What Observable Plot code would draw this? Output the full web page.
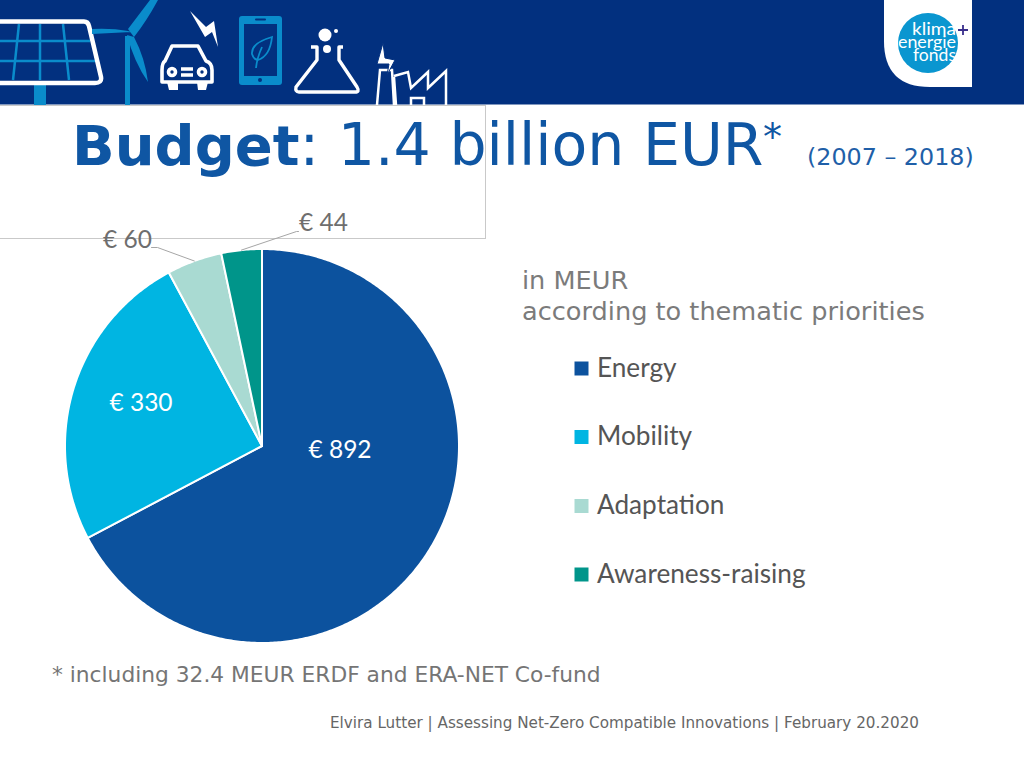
<!DOCTYPE html>
<html><head><meta charset="utf-8">
<script src="https://cdn.jsdelivr.net/npm/d3@7"></script>
<script src="https://cdn.jsdelivr.net/npm/@observablehq/plot@0.6"></script>
<style>
html,body{margin:0;padding:0;background:#fff;overflow:hidden}
#page{position:relative;width:1024px;height:768px;overflow:hidden;background:#fff}
#page>*{position:absolute}
.t{white-space:nowrap;font-family:"DejaVu Sans",sans-serif}
svg{display:block}
</style></head><body>
<div id="page">
<div style="left:-2px;top:105px;width:487px;height:132px;border:1px solid #c9c9c9;border-left:0"></div>
<svg style="left:0;top:0" width="1024" height="106" viewBox="0 0 1024 106">
  <rect width="1024" height="104.500" fill="#02307F"/>
  <!-- solar panel -->
  <rect x="34" y="84" width="12" height="21" fill="#0A8CCB"/>
  <g stroke="#0A8CCB" stroke-width="2.500" fill="none">
    <path d="M19 24L13 80M40 24V80M63 24L69 80M0 41H90M0 61H95"/>
  </g>
  <path d="M-10 21.500H84Q88 21.500 89 26L101 77Q102 83 95 83H-10" fill="none" stroke="#fff" stroke-width="4.500"/>
  <!-- turbine -->
  <path d="M125 36H130V105H125Z" fill="#0A8CCB"/>
  <path d="M128 29L150 0H158Q146 22 134 37Z M131 32L92 34V29Q112 28 128 31Z M127 35L134 37Q145 58 148 82Q134 62 127 35Z" fill="#0A8CCB"/>
  <!-- car -->
  <g fill="none" stroke="#fff" stroke-width="3.600" stroke-linejoin="round">
    <path d="M165 61L172 46H198L206 61Q212 63 212 70V82H162V70Q162 63 165 61Z"/>
    <circle cx="172" cy="72" r="3.500"/><circle cx="202" cy="72" r="3.500"/>
    <path d="M181 69H193M181 75H193"/>
  </g>
  <path d="M167 82H178V90H169ZM197 82H208L206 90H198Z" fill="#fff"/>
  <path d="M190 11L206 27L214 21L218 47L212 32L205 37Z" fill="#fff"/>
  <!-- phone -->
  <rect x="239" y="16" width="43" height="69" rx="3" fill="#0A8CCB"/>
  <rect x="244" y="24" width="33" height="52" fill="#02307F"/>
  <circle cx="260" cy="80" r="2" fill="#02307F"/><rect x="255" y="18.500" width="11" height="2" rx="1" fill="#02307F"/>
  <path d="M272 37Q251 43 252 54Q254 60 258 60Q270 56 272 37ZM262 47Q257 58 256 68" fill="none" stroke="#0A8CCB" stroke-width="1.800"/>
  <!-- flask -->
  <path d="M311 47H317V60L296 87Q295 92 299 92H355Q360 92 357 87L339 60V47H343" fill="none" stroke="#fff" stroke-width="3.400" stroke-linejoin="round"/>
  <circle cx="325" cy="35" r="6.500" fill="#fff"/><circle cx="336" cy="31" r="2" fill="#fff"/><circle cx="327" cy="49" r="4" fill="#fff"/>
  <!-- factory -->
  <path d="M377 105L380 70H392L394 105M394 77L396 105M394 76L408 72L411 88L428 72V88L446 71V105M411 105V98H424V105" fill="none" stroke="#fff" stroke-width="2.500"/>
  <path d="M383 43L385 58L395 60L387 75L389 64L377 64Z" fill="#fff" stroke="#02307F" stroke-width="1"/>
  <!-- logo -->
  <path d="M884 0H972V87H930Q884 87 884 41Z" fill="#fff"/>
  <circle cx="928" cy="43" r="30" fill="#0A96D0"/>
  <g font-family="Lato, sans-serif" fill="#fff" font-size="16.500" lengthAdjust="spacingAndGlyphs">
    <text x="912" y="35" textLength="44" lengthAdjust="spacingAndGlyphs">klima</text>
    <text x="898" y="47.500" textLength="58" lengthAdjust="spacingAndGlyphs">energie</text>
    <text x="913" y="61" textLength="43" lengthAdjust="spacingAndGlyphs">fonds</text>
  </g>
  <path d="M958 30H968M963 25V35" stroke="#3A2E8C" stroke-width="1.800"/>
</svg>
<div class="t" id="title" style="left:72px;top:106px;font-size:58.500px;line-height:78px;color:#0F56A3"><b style="font-size:56px">Budget</b>: 1.4 billion EUR<span style="position:absolute;left:691px;top:-8px;font-size:38px">*</span></div>
<div class="t" style="left:807px;top:142px;font-size:23.800px;line-height:30px;color:#1F5FA8">(2007 – 2018)</div>
<div id="chart" style="left:0;top:0"></div>
<div class="t" style="left:522px;top:265px;font-size:25.600px;line-height:31px;color:#7B7B7B">in MEUR<br>according to thematic priorities</div>
<div class="t" style="left:52px;top:662px;font-size:21.750px;line-height:26px;color:#757575">* including 32.4 MEUR ERDF and ERA-NET Co-fund</div>
<div class="t" style="left:330px;top:714px;font-size:15.200px;line-height:18px;color:#666">Elvira Lutter | Assessing Net-Zero Compatible Innovations | February 20.2020</div>
</div>
<script>
const names = ["Energy", "Mobility", "Adaptation", "Awareness-raising"];
const values = [892, 330, 60, 44];
const valueLabels = ["€ 892", "€ 330", "€ 60", "€ 44"];
const sliceColors = ["#0C529E", "#00B5E2", "#A9DAD2", "#00958A"];

// layout (pixels of the page)
const cx = 261.5, cy = 445.5, R = 197;
const ux = p => (p - cx) / R, uy = p => (cy - p) / R;
const labelAt = [[339.5, 450], [140.5, 403], [127, 240], [323, 223]];
const elbowAt = [null, null, [157, 247], [296, 231]];
const elbowEnd = [null, null, [151, 247], [298, 231]];
const legendX = 581, legendTextX = 596.5, legendY = [368, 436.500, 505.500, 574];
const labelColors = ["#fff", "#fff", "#6E6E6E", "#6E6E6E"];

const arcs = d3.pie().sort(null).value(d => d)(values);
const outline = [];
const rim = [];
arcs.forEach((a, i) => {
  const steps = Math.ceil((a.endAngle - a.startAngle) / 0.01);
  outline.push({name: names[i], x: 0, y: 0});
  for (let s = 0; s <= steps; s++) {
    const t = a.startAngle + (a.endAngle - a.startAngle) * s / steps;
    outline.push({name: names[i], x: Math.sin(t), y: Math.cos(t)});
  }
  outline.push({name: names[i], x: 0, y: 0});
  const m = (a.startAngle + a.endAngle) / 2;
  rim.push([Math.sin(m), Math.cos(m)]);
});
const leaders = [];
[2, 3].forEach(i => {
  leaders.push({k: i, x: rim[i][0], y: rim[i][1]});
  leaders.push({k: i, x: ux(elbowAt[i][0]), y: uy(elbowAt[i][1])});
  leaders.push({k: i, x: ux(elbowEnd[i][0]), y: uy(elbowEnd[i][1])});
});
const labels = values.map((v, i) => ({
  text: valueLabels[i], x: ux(labelAt[i][0]), y: uy(labelAt[i][1]), color: labelColors[i]
}));
const legend = names.map((n, i) => ({name: n, x: ux(legendX), tx: ux(legendTextX), y: uy(legendY[i])}));

const font = "Lato, sans-serif";
const chart = Plot.plot({
  width: 1024, height: 768, margin: 0,
  style: {background: "transparent"},
  x: {domain: [ux(0), ux(1024)], range: [0, 1024], axis: null},
  y: {domain: [uy(0), uy(768)], range: [0, 768], axis: null},
  color: {domain: names, range: sliceColors},
  marks: [
    Plot.line(outline, {x: "x", y: "y", z: "name", fill: "name", stroke: "#fff", strokeWidth: 2, strokeLinejoin: "round"}),
    Plot.line(leaders, {x: "x", y: "y", z: "k", stroke: "#A6A6A6", strokeWidth: 1}),
    Plot.text(labels, {x: "x", y: "y", text: "text", fill: d => d.color, fontSize: 24.5, fontFamily: font}),
    Plot.dot(legend, {x: "x", y: "y", fill: "name", symbol: "square", r: 7.9}),
    Plot.text(legend, {x: "tx", y: "y", text: "name", textAnchor: "start", fill: "#555", fontSize: 26.2, fontFamily: font})
  ]
});
document.getElementById("chart").appendChild(chart);
</script>
</body></html>
